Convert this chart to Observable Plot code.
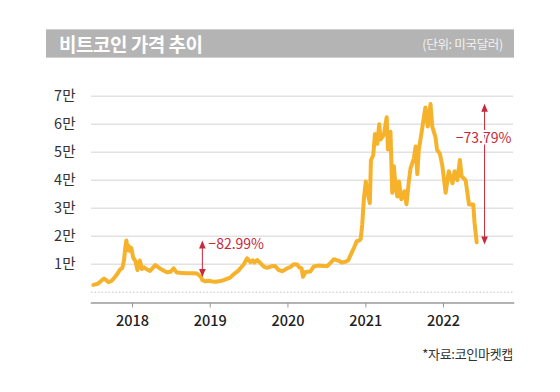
<!DOCTYPE html>
<html>
<head>
<meta charset="utf-8">
<script src="https://cdn.jsdelivr.net/npm/d3@7"></script>
<script src="https://cdn.jsdelivr.net/npm/@observablehq/plot@0.6"></script>
<style>
  html, body { margin: 0; padding: 0; background: #fff; }
  body { width: 560px; height: 392px; position: relative; overflow: hidden;
         font-family: "Noto Sans CJK KR", "Noto Sans", sans-serif; }
  #chart { position: absolute; left: 0; top: 0; }
  #titlebar { position: absolute; left: 46px; top: 29px; width: 468px; height: 29px;
              background: #b4b4b4; border-top: 1px solid #cfcfcf; border-bottom: 1px solid #cfcfcf; box-sizing: border-box; }
  #title { position: absolute; left: 13px; top: 0; line-height: 27px; font-size: 19px; font-weight: 700; color: #fff; letter-spacing: -0.5px; }
  #unit { position: absolute; right: 11px; top: 0; line-height: 27px; font-size: 12.5px; color: #f2f2f2; letter-spacing: -0.3px; }
  #caption { position: absolute; right: 47px; top: 344px; font-size: 13px; color: #333; letter-spacing: -0.3px; }
</style>
</head>
<body>
<div id="chart"></div>
<div id="titlebar"><div id="title">비트코인 가격 추이</div><div id="unit">(단위: 미국달러)</div></div>
<div id="caption">*자료:코인마켓캡</div>
<script>
// ---- data ----
const dates = [
  "2017-07-01","2017-07-22","2017-08-10","2017-08-20","2017-09-10","2017-09-24","2017-10-08","2017-10-19",
  "2017-11-04","2017-11-14","2017-11-22","2017-11-28","2017-12-03","2017-12-08","2017-12-13","2017-12-19","2017-12-26",
  "2018-01-04","2018-01-14","2018-01-24","2018-02-04","2018-02-14","2018-02-24","2018-03-10","2018-03-24",
  "2018-04-18","2018-05-11","2018-06-11","2018-06-28","2018-07-13","2018-07-28","2018-08-20","2018-09-12",
  "2018-10-10","2018-10-30","2018-11-18","2018-11-25","2018-12-09","2018-12-25","2019-01-10","2019-01-28",
  "2019-02-18","2019-03-05","2019-04-05","2019-04-21","2019-05-12","2019-06-07","2019-06-23","2019-07-09",
  "2019-07-20","2019-07-28","2019-08-10","2019-08-25","2019-09-10","2019-09-25","2019-10-19","2019-11-01",
  "2019-11-19","2019-12-05","2019-12-28","2020-01-15","2020-01-28","2020-02-13","2020-02-25","2020-03-05",
  "2020-03-12","2020-03-24","2020-04-15","2020-05-02","2020-05-20","2020-06-20","2020-07-04","2020-07-27",
  "2020-08-04","2020-08-27","2020-09-10","2020-09-28","2020-10-10","2020-10-22","2020-11-06","2020-11-20",
  "2020-11-29","2020-12-08","2020-12-15","2020-12-23","2021-01-01","2021-01-08","2021-01-20","2021-01-25",
  "2021-02-05","2021-02-13","2021-02-24","2021-03-05","2021-03-11","2021-03-27","2021-04-09","2021-04-15",
  "2021-04-27","2021-05-05","2021-05-13","2021-05-21","2021-05-29","2021-06-06","2021-06-17","2021-07-02",
  "2021-07-11","2021-07-22","2021-07-30","2021-08-15","2021-08-23","2021-08-31","2021-09-07","2021-09-23",
  "2021-10-08","2021-10-19","2021-11-01","2021-11-09","2021-11-24","2021-12-02","2021-12-15","2021-12-26",
  "2022-01-11","2022-01-26","2022-02-12","2022-02-22","2022-03-07","2022-03-19","2022-03-27","2022-04-15",
  "2022-05-01","2022-05-21","2022-05-27","2022-06-06"
];
const prices = [
  2600,3000,4300,4900,3600,4000,5200,6300,
  8200,8600,11500,16000,18500,15000,16600,14800,15800,
  12300,11200,7900,11300,8300,8900,8100,7600,
  9700,8400,7100,7300,8500,7000,6900,6800,
  6800,6700,5500,4300,3900,4100,3800,3700,
  4000,4300,5200,6400,7600,9900,12100,10700,
  11400,10600,11500,10400,9100,8700,9300,9400,
  7900,7500,8500,9100,10000,9900,8700,8600,
  5500,7200,7400,9200,9500,9400,9300,11100,
  11800,11200,10600,10900,11400,13300,15800,18300,
  18400,19000,24000,33500,39500,36000,31800,47000,
  49000,56500,53000,60000,54500,56300,62500,51000,
  57300,35500,45000,37500,34200,39500,33200,36000,
  31400,39500,44200,47800,52000,42200,50800,58500,
  66000,59200,67200,59200,55500,50800,49500,45500,
  35500,43200,38900,43200,40000,47200,41400,40000,
  31300,31300,24800,17800
];

const yTicks = [10000, 20000, 30000, 40000, 50000, 60000, 70000];
const yTickLabels = ["1만", "2만", "3만", "4만", "5만", "6만", "7만"];
const xTickYears = [2018, 2019, 2020, 2021, 2022];

// annotations: drop arrows
const annoDates = ["2018-11-25", "2022-07-13"];
const annoTop = [18500, 67300];
const annoBottom = [5400, 17000];
const annoLabels = ["−82.99%", "−73.79%"];
const annoLabelValues = [16900, 54900];

// ---- build tables ----
const parse = d3.utcParse("%Y-%m-%d");
const series = dates.map((d, i) => ({date: parse(d), price: prices[i]}));
const annos = annoDates.map((d, i) => ({
  date: parse(d), top: annoTop[i], bottom: annoBottom[i], label: annoLabels[i], ly: annoLabelValues[i]
}));
const xTicks = xTickYears.map(y => new Date(Date.UTC(y, 0, 1)));

const red = "#c8283a";
const upHead = {draw(ctx) { ctx.moveTo(0, 0); ctx.lineTo(3.3, 8); ctx.lineTo(-3.3, 8); ctx.closePath(); }};
const downHead = {draw(ctx) { ctx.moveTo(0, 0); ctx.lineTo(3.3, -8); ctx.lineTo(-3.3, -8); ctx.closePath(); }};

const chart = Plot.plot({
  width: 560,
  height: 392,
  marginLeft: 91,
  marginRight: 47,
  marginTop: 90,
  marginBottom: 89.5,
  style: {fontFamily: '"Noto Sans CJK KR", "Noto Sans", sans-serif', background: "transparent", overflow: "visible"},
  x: {type: "utc", domain: [parse("2017-06-22"), parse("2022-11-26")]},
  y: {domain: [0, 70000], range: [291.7, 95.7]},
  marks: [
    Plot.ruleY(yTicks, {stroke: "#e2e2e2", strokeWidth: 1.5}),
    Plot.ruleY([0], {stroke: "#c4c4c4", strokeWidth: 1, strokeDasharray: "1.5,2"}),
    Plot.frame({anchor: "bottom", stroke: "#9a9a9a", strokeWidth: 1.5}),
    Plot.axisX(xTicks, {tickSize: 5, tickPadding: 8, stroke: "#9a9a9a", fill: "#222",
      fontSize: 14.5, fontWeight: 500, tickFormat: d3.utcFormat("%Y"), label: null}),
    Plot.axisY(yTicks, {tickSize: 0, tickPadding: 16, fill: "#333", fontSize: 14.5,
      tickFormat: d => yTickLabels[yTicks.indexOf(d)], label: null}),
    Plot.line(series, {x: "date", y: "price", stroke: "#f7b22c", strokeWidth: 4,
      strokeLinejoin: "round", strokeLinecap: "round", curve: "linear"}),
    Plot.ruleX(annos, {x: "date", y1: "top", y2: "bottom", stroke: red, strokeWidth: 1, insetTop: 4, insetBottom: 4}),
    Plot.dot(annos, {x: "date", y: "top", symbol: upHead, fill: red, stroke: null, r: 3}),
    Plot.dot(annos, {x: "date", y: "bottom", symbol: downHead, fill: red, stroke: null, r: 3}),
    Plot.text(annos.slice(0, 1), {x: "date", y: "ly", text: "label", fill: red, fontSize: 14,
      textAnchor: "start", dx: 6}),
    Plot.text(annos.slice(1), {x: "date", y: "ly", text: "label", fill: red, fontSize: 14,
      textAnchor: "middle", dx: -1, stroke: "white", strokeWidth: 4})
  ]
});
document.getElementById("chart").appendChild(chart);
</script>
</body>
</html>
